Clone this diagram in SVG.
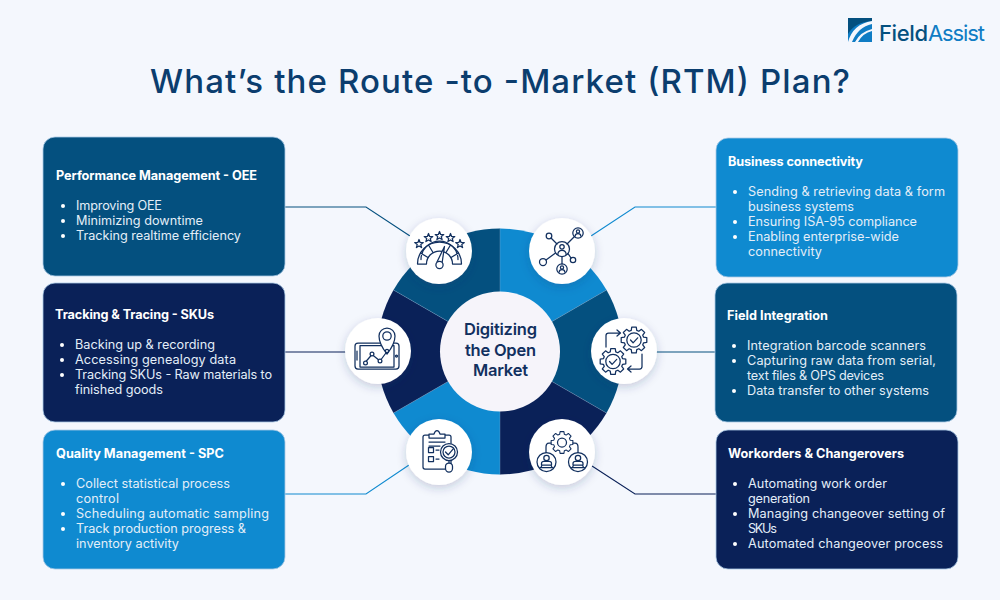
<svg xmlns="http://www.w3.org/2000/svg" width="1000" height="600" viewBox="0 0 1000 600">
<defs>
<filter id="sh" x="-30%" y="-30%" width="160%" height="160%"><feDropShadow dx="0" dy="3" stdDeviation="5" flood-color="#1a3a6a" flood-opacity="0.22"/></filter>
<path id="gear" d="M-2.76 -9.61 L-2.26 -12.8 L2.26 -12.8 L2.76 -9.61 L4.85 -8.75 L7.46 -10.65 L10.65 -7.46 L8.75 -4.85 L9.61 -2.76 L12.8 -2.26 L12.8 2.26 L9.61 2.76 L8.75 4.85 L10.65 7.46 L7.46 10.65 L4.85 8.75 L2.76 9.61 L2.26 12.8 L-2.26 12.8 L-2.76 9.61 L-4.85 8.75 L-7.46 10.65 L-10.65 7.46 L-8.75 4.85 L-9.61 2.76 L-12.8 2.26 L-12.8 -2.26 L-9.61 -2.76 L-8.75 -4.85 L-10.65 -7.46 L-7.46 -10.65 L-4.85 -8.75 Z"/>
<path id="star" d="M0 -4.5 L1.1 -1.5 L4.3 -1.4 L1.8 0.6 L2.6 3.6 L0 1.9 L-2.6 3.6 L-1.8 0.6 L-4.3 -1.4 L-1.1 -1.5 Z"/>
<g id="worker"><circle r="9.5"/><circle cy="-4" r="2.7"/><path d="M-5 3 V1.5 Q-5 -0.6 -2.5 -0.6 H2.5 Q5 -0.6 5 1.5 V3 M-6.5 5.5 H6.5 M-4.5 3 H4.5 L5.5 5.5 M-4.5 3 L-5.5 5.5"/></g>
<g id="contact"><circle r="5.2"/><circle cy="-1.6" r="1.6"/><path d="M-2.8 3 Q-2.8 0.6 0 0.6 Q2.8 0.6 2.8 3"/></g>
</defs>
<style>
.t{font-family:"Inter","Noto Sans",sans-serif}
.h{font-size:12.7px;font-weight:700;fill:#fff}
.b{font-size:12.7px;font-weight:400;fill:#e3eef8}
.conn{fill:none;stroke-width:1.1}
.ic{fill:none;stroke:#12305f;stroke-width:1.25;stroke-linejoin:round;stroke-linecap:round}
.disc{fill:#fff;filter:url(#sh)}
.dot{fill:#fff}
.box{stroke:#a9c9e4;stroke-width:0.8}
.seam{stroke:#7fa6c9;stroke-width:0.6;opacity:.6}
</style>
<rect width="1000" height="600" fill="#f4f7fd"/>
<g id="logo">
<rect x="848" y="18" width="24" height="24" fill="#0f7cc4"/>
<path d="M848 18 H872 V21 Q855 22 848 34 Z" fill="#04507f"/>
<path d="M848 42 Q853 24 872 21 V24 Q858 27 852 42 Z" fill="#f4f7fd"/>
<path d="M855 42 Q860 32 872 29 V31 Q863 33 858 42 Z" fill="#f4f7fd"/>
<text class="t" x="879" y="41" font-size="22" font-weight="500" fill="#04507f" textLength="49">Field</text>
<text class="t" x="928" y="41" font-size="22" font-weight="400" fill="#0f7cc4" textLength="57">Assist</text>
</g>
<text id="title" class="t" x="150" y="93" font-size="33" font-weight="500" fill="#0b3d6e" textLength="700">What’s the Route -to -Market (RTM) Plan?</text>

<g id="connectors">
<path class="conn" stroke="#04507f" d="M285 207 H366 L410 236"/>
<path class="conn" stroke="#0a2158" d="M285 352 H346"/>
<path class="conn" stroke="#0f8ad0" d="M285 494 H366 L409 465"/>
<path class="conn" stroke="#0f8ad0" d="M716 207 H635 L591 236"/>
<path class="conn" stroke="#04507f" d="M656 352 H716"/>
<path class="conn" stroke="#0a2158" d="M716 494 H635 L592 466"/>
</g>

<g id="ring">
<path fill="#0f8ad0" d="M500 228.5 A123 123 0 0 1 606.5 290 L500 351.5 Z"/>
<path fill="#04507f" d="M606.5 290 A123 123 0 0 1 606.5 413 L500 351.5 Z"/>
<path fill="#0a2158" d="M606.5 413 A123 123 0 0 1 500 474.5 L500 351.5 Z"/>
<path fill="#0f8ad0" d="M500 474.5 A123 123 0 0 1 393.5 413 L500 351.5 Z"/>
<path fill="#0a2158" d="M393.5 413 A123 123 0 0 1 393.5 290 L500 351.5 Z"/>
<path fill="#04507f" d="M393.5 290 A123 123 0 0 1 500 228.5 L500 351.5 Z"/>
<path class="seam" d="M500 228.5 V474.5 M393.5 290 L606.5 413 M606.5 290 L393.5 413"/>
</g>
<g id="hub">
<circle cx="500" cy="351.5" r="60" fill="#f6f4fa"/>
<g class="t" font-size="16.5" font-weight="600" fill="#12305f" text-anchor="middle">
<text x="500.5" y="335" textLength="73">Digitizing</text>
<text x="500.5" y="355.5" textLength="71">the Open</text>
<text x="500.5" y="376" textLength="55">Market</text>
</g>
</g>

<g id="icon-performance">
<circle class="disc" cx="439" cy="251" r="33"/>
<g class="ic">
<use href="#star" x="419" y="244"/><use href="#star" x="428.5" y="238"/><use href="#star" x="439.5" y="236"/><use href="#star" x="450.5" y="238"/><use href="#star" x="460" y="244"/>
<path d="M417.5 264 A22 22 0 0 1 461.5 264 H452.5 A13 13 0 0 0 426.5 264 Z"/>
<path d="M420.5 253 L428 257.5 M428.5 245 L433 252.5 M450.5 245 L446 252.5 M458.5 253 L451 257.5 M421 259.5 A18.5 18.5 0 0 1 458 259.5"/>
<path d="M437 262 L444.5 246.5 L442 263.5" fill="#fff"/>
<circle cx="439.5" cy="265" r="3.6" fill="#fff"/>
</g>
</g>
<g id="icon-connectivity">
<circle class="disc" cx="562" cy="251" r="33"/>
<g class="ic">
<path d="M567 244 L574.5 236.5 M562 256.5 V264 M557 244 L551 238 M555.5 253 L546 260 M568 253.5 L571 258"/>
<circle cx="562" cy="249" r="7.5"/><circle cx="562" cy="246.8" r="2.2"/><path d="M557.8 254.5 Q558 250.3 562 250.3 Q566 250.3 566.2 254.5"/>
<use href="#contact" x="578" y="233"/><use href="#contact" x="562" y="269"/>
<circle cx="549" cy="236" r="2.8"/><circle cx="543" cy="262" r="3.5"/><circle cx="573" cy="260" r="2.7"/>
</g>
</g>
<g id="icon-tracking">
<circle class="disc" cx="378" cy="351" r="33"/>
<g class="ic" stroke-width="1.1">
<rect x="355" y="343" width="44" height="26" rx="3"/>
<rect x="360" y="345.5" width="34" height="21.5"/>
<path d="M357 351 V360"/><circle cx="396.5" cy="356" r="1"/>
<path d="M387 354 Q379 344 379 336 A8 8 0 0 1 395 336 Q395 344 387 354 Z" fill="#fff"/>
<circle cx="387" cy="336" r="4.2"/>
<path d="M365.5 362 L372 354.5 L380 361 L387 351.5"/>
<circle cx="365.5" cy="363" r="1.9" fill="#fff"/><circle cx="372" cy="354" r="1.9" fill="#fff"/><circle cx="380" cy="361" r="1.9" fill="#fff"/><circle cx="387" cy="351" r="1.6" fill="#fff"/>
</g>
</g>
<g id="icon-integration">
<circle class="disc" cx="624" cy="351" r="33"/>
<g class="ic">
<use href="#gear" x="634" y="340"/><circle cx="634" cy="340" r="7.2"/>
<use href="#gear" x="613" y="361.5"/><circle cx="613" cy="361.5" r="7.2"/>
<path d="M630.5 340 l2.6 2.8 l4.6 -5 M609.5 361.5 l2.6 2.8 l4.6 -5"/>
<path d="M606 347 V335.5 Q606 333 608.5 333 H620 M617 330 L620.5 333 L617 336 M642 354 V366.5 Q642 369 639.5 369 H628 M631 366 L627.5 369 L631 372"/>
</g>
</g>
<g id="icon-quality">
<circle class="disc" cx="439" cy="452" r="33"/>
<g class="ic" stroke-width="1.1">
<rect x="423" y="435" width="28" height="34" rx="2"/>
<path d="M429 438 V434 H434 Q435 430.5 437 430.5 Q439 430.5 440 434 H445 V438 Z" fill="#fff"/>
<path d="M429 442 H445 M429 446 H440"/>
<rect x="428.5" y="447.5" width="5" height="5"/><rect x="428.5" y="456.5" width="5" height="5"/>
<path d="M436 450 H439 M436 459 H439"/>
<circle cx="449" cy="452" r="8.5" fill="#fff"/><circle cx="449" cy="452" r="6"/><path d="M445.5 452 l2.7 2.8 l5 -6"/>
<path d="M449 460.5 V463"/><rect x="445.5" y="463" width="7" height="9" rx="3.5" fill="#fff"/>
</g>
</g>
<g id="icon-workorders">
<circle class="disc" cx="562" cy="452" r="33"/>
<g class="ic">
<use href="#gear" transform="translate(562 442.5) scale(0.85)"/><circle cx="562" cy="442.5" r="4.5"/>
<path d="M551 443 H549 Q546 443 546 447 V452.5 M573 443 H575 Q578 443 578 447 V452.5"/>
<use href="#worker" x="546.5" y="462"/>
<use href="#worker" x="578" y="462"/>
</g>
</g>

<g id="node-performance">
<rect class="box" x="43" y="137" width="242" height="139" rx="12" fill="#04507f"/>
<text class="t h" x="56" y="180" textLength="201">Performance Management - OEE</text>
<g class="t b"><circle class="dot" cx="63" cy="206" r="2"/><text x="76" y="210" textLength="86">Improving OEE</text>
<circle class="dot" cx="63" cy="221" r="2"/><text x="76" y="225" textLength="127">Minimizing downtime</text>
<circle class="dot" cx="63" cy="236" r="2"/><text x="76" y="240" textLength="165">Tracking realtime efficiency</text></g>
</g>
<g id="node-tracking">
<rect class="box" x="43" y="283" width="242" height="139" rx="12" fill="#0a2158"/>
<text class="t h" x="55" y="319" textLength="159">Tracking &amp; Tracing - SKUs</text>
<g class="t b"><circle class="dot" cx="62" cy="345" r="2"/><text x="75" y="349" textLength="140">Backing up &amp; recording</text>
<circle class="dot" cx="62" cy="360" r="2"/><text x="75" y="364" textLength="161">Accessing genealogy data</text>
<circle class="dot" cx="62" cy="375" r="2"/><text x="75" y="379" textLength="197">Tracking SKUs - Raw materials to</text>
<text x="75" y="394" textLength="88">finished goods</text></g>
</g>
<g id="node-quality">
<rect class="box" x="43" y="430" width="242" height="139" rx="12" fill="#0f8ad0"/>
<text class="t h" x="56" y="458" textLength="168">Quality Management - SPC</text>
<g class="t b"><circle class="dot" cx="63" cy="484" r="2"/><text x="76" y="488" textLength="154">Collect statistical process</text>
<text x="76" y="503" textLength="43">control</text>
<circle class="dot" cx="63" cy="514" r="2"/><text x="76" y="518" textLength="193">Scheduling automatic sampling</text>
<circle class="dot" cx="63" cy="529" r="2"/><text x="76" y="533" textLength="170">Track production progress &amp;</text>
<text x="76" y="548" textLength="103">inventory activity</text></g>
</g>
<g id="node-business">
<rect class="box" x="716" y="138" width="242" height="139" rx="12" fill="#0f8ad0"/>
<text class="t h" x="728" y="166" textLength="135">Business connectivity</text>
<g class="t b"><circle class="dot" cx="735" cy="192" r="2"/><text x="748" y="196" textLength="197">Sending &amp; retrieving data &amp; form</text>
<text x="748" y="211" textLength="106">business systems</text>
<circle class="dot" cx="735" cy="222" r="2"/><text x="748" y="226" textLength="169">Ensuring ISA-95 compliance</text>
<circle class="dot" cx="735" cy="237" r="2"/><text x="748" y="241" textLength="151">Enabling enterprise-wide</text>
<text x="748" y="256" textLength="74">connectivity</text></g>
</g>
<g id="node-field">
<rect class="box" x="715" y="283" width="242" height="139" rx="12" fill="#04507f"/>
<text class="t h" x="727" y="320" textLength="101">Field Integration</text>
<g class="t b"><circle class="dot" cx="734" cy="346" r="2"/><text x="747" y="350" textLength="179">Integration barcode scanners</text>
<circle class="dot" cx="734" cy="361" r="2"/><text x="747" y="365" textLength="189">Capturing raw data from serial,</text>
<text x="747" y="380" textLength="137">text files &amp; OPS devices</text>
<circle class="dot" cx="734" cy="391" r="2"/><text x="747" y="395" textLength="182">Data transfer to other systems</text></g>
</g>
<g id="node-workorders">
<rect class="box" x="716" y="430" width="242" height="139" rx="12" fill="#0a2158"/>
<text class="t h" x="728" y="458" textLength="176">Workorders &amp; Changerovers</text>
<g class="t b"><circle class="dot" cx="735" cy="484" r="2"/><text x="748" y="488" textLength="139">Automating work order</text>
<text x="748" y="503" textLength="62">generation</text>
<circle class="dot" cx="735" cy="514" r="2"/><text x="748" y="518" textLength="197">Managing changeover setting of</text>
<text x="748" y="533" textLength="29">SKUs</text>
<circle class="dot" cx="735" cy="544" r="2"/><text x="748" y="548" textLength="195">Automated changeover process</text></g>
</g>
</svg>
